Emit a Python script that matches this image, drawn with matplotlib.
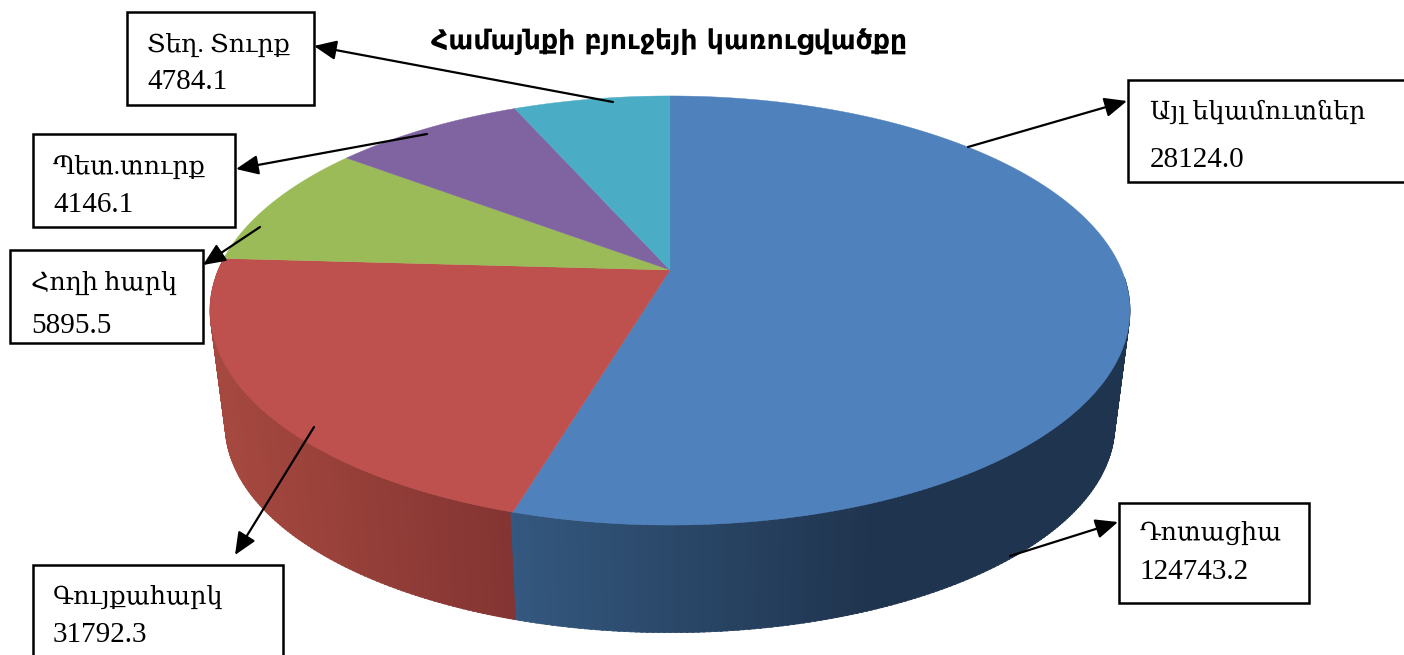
import numpy as np
import matplotlib
matplotlib.use("Agg")
import matplotlib.pyplot as plt
from matplotlib.colors import to_rgb
from matplotlib.patches import Polygon, Rectangle

title = "Համայնքի բյուջեյի կառուցվածքը"
# share of each slice in percent, clockwise from 12 o'clock (measured on the picture)
slice_shares = [54.6, 21.3, 9.4, 8.1, 6.6]
slice_colors = ["#4f81bd", "#be504d", "#9bbb59", "#8064a2", "#4bacc6"]
label_names = ["Տեղ. Տուրք", "Պետ.տուրք", "Հողի հարկ", "Գույքահարկ", "Այլ եկամուտներ", "Դոտացիա"]
label_values = [4784.1, 4146.1, 5895.5, 31792.3, 28124.0, 124743.2]

# label layout, in pixels: box x0, y0, x1, y1
boxes = [(127, 12, 314, 105), (33, 134, 235, 227), (10, 250, 203, 343),
         (33, 565, 283, 670), (1128, 80, 1420, 182), (1119, 503, 1309, 603)]
text_x = [147, 53, 31, 53, 1150, 1139]
text_y = [(45, 82), (167, 205), (283, 326), (597, 635), (112, 160), (533, 572)]
arrows = [((613, 102), (314, 46)), ((427, 134), (236, 169)), ((260, 227), (203, 265)),
          ((314, 427), (235, 555)), ((968, 147), (1127, 101)), ((1010, 556), (1118, 522))]

fig = plt.figure(figsize=(14.04, 6.55), dpi=100)
ax = fig.add_axes([0, 0, 1, 1])
ax.set_xlim(0, 1404)
ax.set_ylim(655, 0)
ax.axis("off")


# perspective view of the unit circle; theta is clockwise from the top
def project(theta, apex_y, scale):
    k = 81 / 429
    w = 1 + k * np.cos(theta)
    x = 670 + scale * 451.7 * np.sin(theta) / w
    y = apex_y - scale * 206.9 * np.cos(theta) / w
    return x, y


def shade(color_a, color_b, t):
    a, b = np.array(to_rgb(color_a)), np.array(to_rgb(color_b))
    return tuple(a + (b - a) * t)


edges = np.radians(np.cumsum([0] + slice_shares) * 3.6)
top_y, bottom_y, bottom_scale = 270, 386, 0.967

# side wall, only the front part is visible
split = edges[1]
for t0 in np.linspace(np.radians(92), edges[2], 300):
    t1 = t0 + np.radians(0.8)
    xa, ya = project(t0, top_y, 1)
    xb, yb = project(t1, top_y, 1)
    xc, yc = project(t1, bottom_y, bottom_scale)
    xd, yd = project(t0, bottom_y, bottom_scale)
    if t0 < split:
        frac = np.clip((xa - 512) / 370, 0, 1)
        col = shade("#34587f", "#1f344e", frac)
    else:
        frac = np.clip((xa - 225) / 290, 0, 1)
        col = shade("#a5483f", "#833432", frac)
    ax.add_patch(Polygon([(xa, ya), (xb, yb), (xc, yc), (xd, yd)], closed=True,
                         facecolor=col, edgecolor=col, linewidth=0.5))

# top face
for i, color in enumerate(slice_colors):
    th = np.linspace(edges[i], edges[i + 1], 200)
    xs, ys = project(th, top_y, 1)
    pts = [(670, top_y)] + list(zip(xs, ys))
    ax.add_patch(Polygon(pts, closed=True, facecolor=color, edgecolor=color, linewidth=0.3))

for box in boxes:
    x0, y0, x1, y1 = box
    ax.add_patch(Rectangle((x0, y0), x1 - x0, y1 - y0, facecolor="white", edgecolor="black",
                           linewidth=1.8, zorder=3))

serif = ["Liberation Serif", "DejaVu Serif", "DejaVu Sans"]
for name, val, x, (y1, y2) in zip(label_names, label_values, text_x, text_y):
    ax.text(x, y1, name, fontsize=18.3, family=serif, va="center", ha="left", zorder=4)
    ax.text(x, y2, f"{val:.1f}", fontsize=21, family=serif, va="center", ha="left", zorder=4)

for start, end in arrows:
    ax.annotate("", xy=end, xytext=start, zorder=5,
                arrowprops=dict(arrowstyle="-|>,head_length=0.8,head_width=0.35", color="black",
                                lw=1.6, shrinkA=0, shrinkB=0, mutation_scale=17))

ax.text(669, 42, title, fontsize=19.2, fontweight="bold", family="DejaVu Sans", ha="center", va="center")

fig.savefig("out.png", dpi=100)
